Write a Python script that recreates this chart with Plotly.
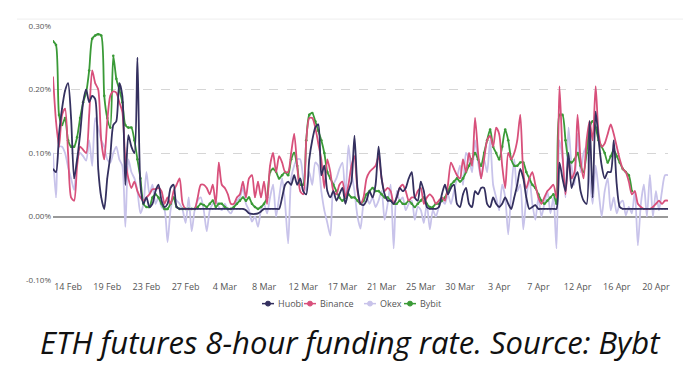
import plotly.graph_objects as go

tick_labels = ["14 Feb", "19 Feb", "23 Feb", "27 Feb", "4 Mar", "8 Mar", "12 Mar", "17 Mar",
               "21 Mar", "25 Mar", "30 Mar", "3 Apr", "7 Apr", "12 Apr", "16 Apr", "20 Apr"]
y_ticks = [-0.1, 0.0, 0.1, 0.2, 0.3]

huobi = [
    0.075, 0.07, 0.13, 0.17, 0.198, 0.21, 0.155, 0.06, 0.09, 0.13,
    0.18, 0.2, 0.18, 0.19, 0.185, 0.075, 0.03, 0.012, 0.06, 0.095,
    0.144, 0.15, 0.21, 0.19, 0.05, 0.128, 0.11, 0.10, 0.25, 0.05,
    0.02, 0.03, 0.015, 0.02, 0.04, 0.05, 0.025, 0.015, 0.02, 0.045,
    0.05, 0.015, 0.012, 0.012, 0.012, 0.012, 0.012, 0.012, 0.012, 0.012,
    0.012, 0.012, 0.012, 0.012, 0.012, 0.012, 0.012, 0.012, 0.012, 0.012,
    0.012, 0.012, 0.012, 0.012, 0.01, 0.005, 0.004, 0.004, 0.005, 0.008,
    0.012, 0.012, 0.012, 0.012, 0.012, 0.012, 0.03, 0.05, 0.055, 0.05,
    0.065, 0.05, 0.06, 0.04, 0.035, 0.09, 0.12, 0.14, 0.145, 0.065,
    0.08, 0.04, 0.03, 0.04, 0.025, 0.035, 0.045, 0.02, 0.04, 0.055,
    0.127, 0.045, 0.02, 0.018, 0.025, 0.04, 0.03, 0.05, 0.11, 0.06,
    0.035, 0.025, 0.025, 0.02, 0.03, 0.045, 0.04, 0.045, 0.06, 0.07,
    0.03, 0.025, 0.055, 0.04, 0.015, 0.012, 0.012, 0.012, 0.015, 0.035,
    0.05, 0.035, 0.045, 0.05, 0.02, 0.015, 0.035, 0.045, 0.02, 0.015,
    0.04, 0.035, 0.045, 0.045, 0.02, 0.015, 0.03, 0.02, 0.015, 0.02,
    0.03, 0.02, 0.012, 0.03, 0.05, 0.075, 0.06, 0.03, 0.012, 0.015,
    0.018, 0.012, 0.012, 0.012, 0.012, 0.012, 0.012, 0.012, 0.085, 0.06,
    0.04, 0.1, 0.045, 0.06, 0.07, 0.04, 0.025, 0.02, 0.15, 0.03,
    0.165, 0.12, 0.08, 0.06, 0.07, 0.07, 0.12, 0.05, 0.015, 0.012,
    0.012, 0.012, 0.012, 0.012, 0.012, 0.012, 0.012, 0.012, 0.012, 0.012,
    0.012, 0.012, 0.012, 0.012, 0.012,
]

binance = [
    0.22, 0.15, 0.11, 0.16, 0.17, 0.10, 0.03, 0.025, 0.08, 0.11,
    0.105, 0.10, 0.16, 0.23, 0.21, 0.2, 0.12, 0.09, 0.15, 0.19,
    0.197, 0.195, 0.18, 0.165, 0.09, 0.06, 0.045, 0.055, 0.04, 0.03,
    0.025, 0.03, 0.035, 0.043, 0.043, 0.045, 0.04, 0.02, 0.03, 0.02,
    0.04, 0.05, 0.06, 0.02, 0.012, 0.012, 0.012, 0.012, 0.03, 0.05,
    0.05, 0.045, 0.035, 0.05, 0.02, 0.085, 0.05, 0.045, 0.035, 0.02,
    0.02, 0.03, 0.035, 0.055, 0.03, 0.06, 0.065, 0.03, 0.055, 0.03,
    0.055, 0.02, 0.08, 0.1, 0.07, 0.095, 0.085, 0.07, 0.07, 0.1,
    0.13, 0.08, 0.04, 0.035, 0.12, 0.155, 0.155, 0.14, 0.115, 0.09,
    0.045, 0.09, 0.07, 0.04, 0.035, 0.05, 0.055, 0.03, 0.05, 0.08,
    0.095, 0.04, 0.02, 0.03, 0.06, 0.07, 0.075, 0.08, 0.095, 0.06,
    0.04, 0.045, 0.04, 0.02, 0.03, 0.045, 0.05, 0.04, 0.025, 0.03,
    0.03, 0.04, 0.045, 0.02, 0.03, 0.035, 0.03, 0.02, 0.025, 0.03,
    0.025, 0.05, 0.085, 0.075, 0.065, 0.06, 0.09, 0.07, 0.1, 0.08,
    0.155, 0.1, 0.06, 0.09, 0.12, 0.127, 0.11, 0.14, 0.13, 0.08,
    0.045, 0.1, 0.09, 0.1, 0.12, 0.16, 0.07, 0.045, 0.06, 0.07,
    0.05, 0.03, 0.02, 0.03, 0.04, 0.045, 0.05, 0.03, 0.205, 0.1,
    0.035, 0.09, 0.06, 0.07, 0.16, 0.09, 0.06, 0.12, 0.15, 0.12,
    0.205, 0.13, 0.11, 0.115, 0.13, 0.145, 0.13, 0.11, 0.09, 0.075,
    0.07, 0.055, 0.035, 0.04, 0.02, 0.015, 0.012, 0.012, 0.012, 0.015,
    0.02, 0.025, 0.02, 0.025, 0.025,
]

okex = [
    0.10, 0.03, 0.11, 0.11, 0.1, 0.078, 0.06, 0.042, 0.09, 0.1,
    0.095, 0.088, 0.12, 0.08, 0.155, 0.14, 0.12, 0.11, 0.09, 0.085,
    0.1, 0.11, 0.09, 0.08, -0.016, 0.09, 0.07, 0.06, 0.04, 0.005,
    0.02, 0.07, 0.035, 0.05, 0.02, 0.03, 0.015, 0.01, -0.04, 0.01,
    0.03, 0.025, 0.02, 0.01, -0.01, 0.03, -0.023, 0.01, 0.025, 0.03,
    0.01, -0.023, 0.01, 0.02, 0.025, 0.015, 0.01, 0.02, 0.01, 0.005,
    0.015, 0.025, 0.03, 0.045, 0.02, 0.01, -0.008, 0.0, -0.016, 0.01,
    0.02, 0.005, 0.03, 0.05, 0.0, 0.03, 0.06, 0.02, -0.042, 0.06,
    0.08, 0.09, 0.09, 0.06, 0.04, 0.07, 0.05, 0.085, 0.08, 0.04,
    0.01, -0.01, -0.03, 0.05, 0.06, 0.075, 0.085, 0.03, 0.112, 0.07,
    0.04, 0.0, -0.019, 0.02, 0.03, 0.02, 0.03, 0.015, 0.025, 0.04,
    -0.005, 0.02, 0.05, -0.05, 0.04, 0.025, 0.03, 0.01, 0.02, 0.025,
    -0.005, 0.015, 0.01, -0.01, 0.02, -0.02, 0.01, 0.0, 0.015, 0.025,
    0.02, 0.035, 0.02, 0.04, 0.06, 0.08, 0.05, 0.1, 0.09, 0.07,
    0.12, 0.085, 0.06, 0.09, 0.07, 0.12, 0.05, 0.03, 0.01, 0.05,
    0.03, -0.028, 0.04, 0.09, 0.04, 0.05, -0.02, 0.03, 0.06, 0.02,
    -0.005, 0.03, 0.0, 0.02, 0.04, 0.005, 0.03, -0.05, 0.12, 0.09,
    0.03, 0.14, 0.08, 0.05, 0.13, 0.07, 0.1, 0.11, 0.06, 0.02,
    0.08, 0.04, 0.0, 0.04, 0.06, 0.01, 0.03, 0.005, 0.02, 0.025,
    0.002, 0.015, 0.005, 0.04, -0.045, 0.02, 0.05, 0.0, 0.065, 0.0,
    0.04, 0.01, 0.04, 0.065, 0.065,
]

bybit = [
    0.276, 0.27, 0.16, 0.144, 0.155, 0.12, 0.11, 0.11, 0.125, 0.155,
    0.18, 0.195, 0.23, 0.28, 0.285, 0.287, 0.285, 0.19, 0.155, 0.14,
    0.253, 0.217, 0.2, 0.18, 0.144, 0.14, 0.14, 0.12, 0.09, 0.06,
    0.02, 0.015, 0.015, 0.03, 0.035, 0.03, 0.02, 0.012, 0.012, 0.02,
    0.03, 0.015, 0.012, 0.012, 0.012, 0.012, 0.012, 0.012, 0.015, 0.02,
    0.018, 0.015, 0.02, 0.025, 0.015, 0.02, 0.02, 0.015, 0.012, 0.012,
    0.015, 0.02, 0.025, 0.03, 0.025, 0.03, 0.02, 0.015, 0.012, 0.015,
    0.02, 0.03, 0.07, 0.075, 0.07, 0.06, 0.065, 0.07, 0.065, 0.09,
    0.1, 0.08, 0.05, 0.05, 0.12, 0.16, 0.163, 0.15, 0.135, 0.12,
    0.1, 0.07, 0.06, 0.05, 0.04, 0.03, 0.025, 0.03, 0.035, 0.03,
    0.03, 0.025, 0.02, 0.025, 0.035, 0.04, 0.045, 0.04, 0.04, 0.035,
    0.03, 0.03, 0.025, 0.02, 0.02, 0.025, 0.02, 0.02, 0.025, 0.02,
    0.015, 0.02, 0.025, 0.03, 0.02, 0.015, 0.015, 0.02, 0.02, 0.025,
    0.03, 0.04, 0.05, 0.055, 0.06, 0.055, 0.06, 0.07, 0.08, 0.09,
    0.1, 0.09, 0.08, 0.1, 0.12, 0.137, 0.11, 0.1, 0.09, 0.11,
    0.137, 0.12, 0.09, 0.08, 0.08, 0.085, 0.085, 0.07, 0.06, 0.05,
    0.045, 0.035, 0.025, 0.02, 0.025, 0.03, 0.035, 0.02, 0.16, 0.16,
    0.12, 0.09, 0.085, 0.09, 0.1, 0.08, 0.07, 0.1, 0.14, 0.15,
    0.14, 0.12, 0.11, 0.1, 0.085, 0.095, 0.105, 0.095, 0.085, 0.075,
    0.07, 0.065, 0.04,
]

# drawing order (bottom -> top)
series = [
    ("Okex", okex, "#c8c3ea"),
    ("Bybit", bybit, "#3a9a37"),
    ("Binance", binance, "#d8507b"),
    ("Huobi", huobi, "#34305f"),
]
legend_order = ["Huobi", "Binance", "Okex", "Bybit"]
colors = {name: c for name, _, c in series}

# page layout (the page body has an 8px margin)
BODY = 8
L, R, T, B = 53 - BODY, 40, 22 - BODY, 104
PW = 700 - L - R
PH = 376 - T - B


def px(xp):
    return (xp - BODY - L) / PW


def py(yp):
    return (376 - B - (yp - BODY)) / PH


fig = go.Figure()
for name, vals, color in series:
    fig.add_trace(go.Scatter(
        x=list(range(len(vals))), y=vals, name=name, mode="lines+markers",
        line=dict(color=color, width=1.8, shape="spline", smoothing=0.7),
        marker=dict(size=2.6 if name == "Bybit" else 1, color=color),
        showlegend=False,
    ))

n = len(okex)

# custom compact legend
shapes = []
annotations = []
legend_sym_x = [268, 310, 370, 410]
legend_y = 304
for name, sx in zip(legend_order, legend_sym_x):
    c = colors[name]
    shapes.append(dict(type="line", xref="paper", yref="paper",
                       x0=px(sx - 6), x1=px(sx + 6), y0=py(legend_y), y1=py(legend_y),
                       line=dict(color=c, width=1.5)))
    shapes.append(dict(type="circle", xref="paper", yref="paper",
                       x0=px(sx - 2.5), x1=px(sx + 2.5), y0=py(legend_y - 2.5), y1=py(legend_y + 2.5),
                       line=dict(color=c, width=1), fillcolor=c))
    annotations.append(dict(text=name, xref="paper", yref="paper", x=px(sx + 8), y=py(legend_y),
                            xanchor="left", yanchor="middle", showarrow=False,
                            font=dict(family="Open Sans", size=9, color="#555")))

# faint top separator
shapes.append(dict(type="line", xref="paper", yref="paper", x0=px(17), x1=px(683),
                   y0=py(15), y1=py(15), line=dict(color="#eeeeee", width=1)))

annotations.append(dict(
    text="ETH futures 8-hour funding rate. Source: Bybt",
    xref="paper", yref="paper", x=px(350), y=py(343), xanchor="center", yanchor="middle",
    showarrow=False,
    font=dict(family="Open Sans", size=31, color="#111", style="italic"),
))

fig.update_layout(
    width=700, height=376,
    margin=dict(l=L, r=R, t=T, b=B),
    paper_bgcolor="white", plot_bgcolor="white",
    showlegend=False,
    xaxis=dict(range=[0, n - 1], tickmode="array",
               tickvals=list(range(5, n, 13))[:len(tick_labels)], ticktext=tick_labels,
               showgrid=False, zeroline=False, showline=False, ticks="",
               tickfont=dict(family="Open Sans", size=9, color="#555")),
    yaxis=dict(range=[-0.1, 0.3], tickmode="array", tickvals=y_ticks,
               ticktext=[f"{v:.2f}%" for v in y_ticks],
               showgrid=True, gridcolor="#d6d6d6", griddash="dash", gridwidth=1,
               zeroline=True, zerolinecolor="#999999", zerolinewidth=2,
               ticks="", ticklabelstandoff=1,
               tickfont=dict(family="Open Sans", size=8, color="#555")),
    shapes=shapes,
    annotations=annotations,
)

fig.write_html("out.html")
